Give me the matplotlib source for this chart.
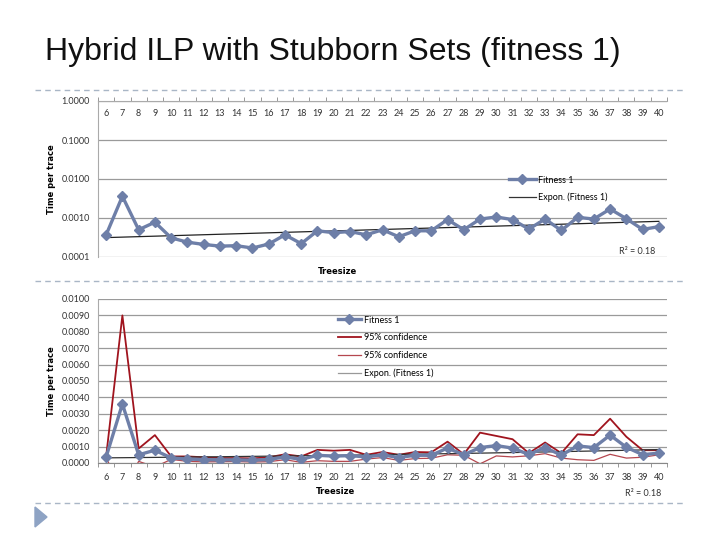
import numpy as np
import matplotlib
matplotlib.use("Agg")
import matplotlib.pyplot as plt
from matplotlib.lines import Line2D

# ---- data ----
treesize = list(range(6, 41))
fitness1 = [0.00037, 0.0036, 0.00050, 0.00078, 0.00031, 0.00024, 0.00021, 0.00019,
            0.000195, 0.00017, 0.000215, 0.00037, 0.00022, 0.00047, 0.00042, 0.00045,
            0.00037, 0.00050, 0.00033, 0.00047, 0.00047, 0.00091, 0.00050, 0.00094,
            0.00106, 0.00091, 0.00052, 0.00094, 0.00048, 0.00104, 0.00094, 0.00170,
            0.00096, 0.00051, 0.00060]
upper95 = [0.00040, 0.0090, 0.00088, 0.00170, 0.00040, 0.00040, 0.00035, 0.00030,
           0.00030, 0.00028, 0.00035, 0.00053, 0.00040, 0.00080, 0.00075, 0.00080,
           0.00050, 0.00067, 0.00050, 0.00067, 0.00065, 0.00130, 0.00053, 0.00185,
           0.00165, 0.00145, 0.00060, 0.00125, 0.00060, 0.00175, 0.00170, 0.00270,
           0.00160, 0.00078, 0.00078]
lower95 = [0.00034, -0.0018, 0.00010, -0.00024, 0.00022, 0.00010, 0.00007, 0.00008,
           0.00009, 0.00006, 0.00008, 0.00020, 0.00004, 0.00014, 0.00010, 0.00010,
           0.00024, 0.00033, 0.00016, 0.00027, 0.00029, 0.00050, 0.00047, -0.00005,
           0.00043, 0.00037, 0.00044, 0.00057, 0.00030, 0.00020, 0.00016, 0.00053,
           0.00030, 0.00035, 0.00050]
top_yticks = [0.0001, 0.001, 0.01, 0.1, 1.0]
bottom_yticks = [i / 10000 for i in range(0, 101, 10)]
r2_text = "R² = 0.18"

# exponential trendline fitted from the data
x = np.array(treesize, dtype=float)
y = np.array(fitness1)
b, a = np.polyfit(x, np.log(y), 1)
trend = np.exp(a + b * x)

W, H = 720, 540
fig = plt.figure(figsize=(7.2, 5.4), dpi=100)
fig.patch.set_facecolor("white")

def ax_rect(l, t, r, btm):
    return [l / W, 1 - btm / H, (r - l) / W, (btm - t) / H]

TICKFONT = "Lato"
blue = "#6E7FA8"
dark_red = "#A0141E"
light_red = "#B5474F"
grid_c = "#9A9A9A"

# title
fig.text(45 / W, 1 - 52 / H, "Hybrid ILP with Stubborn Sets (fitness 1)",
         fontsize=23, family="Liberation Sans", va="center", ha="left", color="#111111")

# dashed separators
for yy in (90, 281, 503):
    fig.add_artist(Line2D([35 / W, 685 / W], [1 - yy / H, 1 - yy / H],
                          transform=fig.transFigure, color="#A9B6C6",
                          lw=1.0, ls=(0, (4, 3))))

# bottom-left triangle marker
fig.add_artist(plt.Polygon([[35 / W, 1 - 507 / H], [35 / W, 1 - 527 / H], [47 / W, 1 - 517 / H]],
                           closed=True, transform=fig.transFigure, color="#8EA3C4"))

# ---------- top chart (log) ----------
ax1 = fig.add_axes(ax_rect(98, 101, 667, 257))
ax1.set_yscale("log")
ax1.set_ylim(0.0001, 1.0)
ax1.set_xlim(5.5, 40.5)
for yt in top_yticks:
    ax1.axhline(yt, color=grid_c, lw=0.9, zorder=0)
ax1.plot(x, trend, color="#222222", lw=0.9, zorder=2)
ax1.plot(x, y, color=blue, lw=2.4, marker="D", markersize=5, zorder=3)
ax1.set_yticks(top_yticks)
ax1.set_yticklabels([f"{v:.4f}" for v in top_yticks], fontsize=6.5, family=TICKFONT, color="#333333")
ax1.yaxis.set_minor_locator(matplotlib.ticker.NullLocator())
ax1.set_xticks(treesize)
ax1.set_xticklabels([str(t) for t in treesize], fontsize=6.5, family=TICKFONT, color="#333333")
ax1.set_xticks(np.arange(5.5, 41, 1.0), minor=True)
ax1.tick_params(axis="x", which="major", top=False, bottom=False, labeltop=True,
                labelbottom=False, length=0, pad=-12)
ax1.tick_params(axis="x", which="minor", top=True, bottom=False, direction="out",
                length=3, color="#888888")
ax1.tick_params(axis="y", which="major", length=0, pad=6)
for s in ("right", "bottom"):
    ax1.spines[s].set_visible(False)
ax1.spines["left"].set_color("#AAAAAA")
ax1.spines["top"].set_color("#AAAAAA")
ax1.set_ylabel("Time per trace", fontsize=6, family="DejaVu Sans", weight="bold", labelpad=4)
fig.text(338 / W, 1 - 272 / H, "Treesize", fontsize=6, weight="bold", ha="center", va="center")
fig.text(637 / W, 1 - 251 / H, r2_text, fontsize=6.5, family=TICKFONT, ha="center", va="center", color="#333333")
h1 = [Line2D([], [], color=blue, lw=2.4, marker="D", markersize=5),
      Line2D([], [], color="#333333", lw=0.9)]
ax1.legend(h1, ["Fitness 1", "Expon. (Fitness 1)"], loc="upper left",
           bbox_to_anchor=((505 - 98) / 569, (257 - 172) / 156), frameon=False,
           prop={"family": TICKFONT, "size": 6.5}, handlelength=3.0, labelspacing=0.9,
           borderaxespad=0, handletextpad=0.3)

# ---------- bottom chart (linear) ----------
ax2 = fig.add_axes(ax_rect(98, 299, 667, 463))
ax2.set_ylim(0, 0.01)
ax2.set_xlim(5.5, 40.5)
for yt in bottom_yticks:
    ax2.axhline(yt, color=grid_c, lw=0.9, zorder=0)
ax2.plot(x, upper95, color=dark_red, lw=1.3, zorder=2)
ax2.plot(x, lower95, color=light_red, lw=0.9, zorder=2)
ax2.plot(x, trend, color="#333333", lw=0.9, zorder=2)
ax2.plot(x, y, color=blue, lw=2.4, marker="D", markersize=5, zorder=3)
ax2.set_yticks(bottom_yticks)
ax2.set_yticklabels([f"{v:.4f}" for v in bottom_yticks], fontsize=6.5, family=TICKFONT, color="#333333")
ax2.set_xticks(treesize)
ax2.set_xticklabels([str(t) for t in treesize], fontsize=6.5, family=TICKFONT, color="#333333")
ax2.set_xticks(np.arange(5.5, 41, 1.0), minor=True)
ax2.tick_params(axis="x", which="major", length=0, pad=7)
ax2.tick_params(axis="x", which="minor", direction="out", length=3, color="#888888")
ax2.tick_params(axis="y", which="major", length=0, pad=6)
for s in ("right", "top"):
    ax2.spines[s].set_visible(False)
ax2.spines["left"].set_color("#AAAAAA")
ax2.spines["bottom"].set_color("#888888")
ax2.set_ylabel("Time per trace", fontsize=6, weight="bold", labelpad=4)
fig.text(336 / W, 1 - 491 / H, "Treesize", fontsize=6, weight="bold", ha="center", va="center")
fig.text(643 / W, 1 - 493 / H, r2_text, fontsize=6.5, family=TICKFONT, ha="center", va="center", color="#333333")
h2 = [Line2D([], [], color=blue, lw=2.4, marker="D", markersize=5),
      Line2D([], [], color=dark_red, lw=1.3),
      Line2D([], [], color=light_red, lw=0.9),
      Line2D([], [], color="#999999", lw=0.9)]
ax2.legend(h2, ["Fitness 1", "95% confidence", "95% confidence", "Expon. (Fitness 1)"],
           loc="upper left", bbox_to_anchor=((334 - 98) / 569, (463 - 312) / 164),
           frameon=False, prop={"family": TICKFONT, "size": 6.5}, handlelength=2.6,
           labelspacing=0.95, borderaxespad=0, handletextpad=0.3)

fig.savefig("out.png", dpi=100)
